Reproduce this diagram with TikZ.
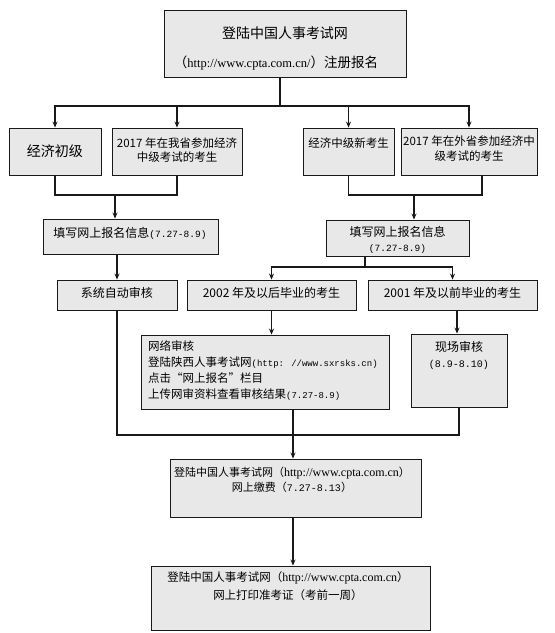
\documentclass[tikz,border=0pt]{standalone}
\usepackage{fontspec}
\setmainfont{Noto Sans CJK SC}
\newfontfamily\cjk{Noto Sans CJK SC}
\newfontfamily\ser{Liberation Serif}
\newfontfamily\mon{Liberation Mono}
\usetikzlibrary{arrows.meta}
\definecolor{boxfill}{RGB}{232,232,232}
\definecolor{ln}{RGB}{25,25,25}
\begin{document}
\begin{tikzpicture}[x=1pt,y=-1pt,
  box/.style={draw=ln, line width=0.9pt, fill=boxfill, inner sep=0pt},
  conn/.style={draw=ln, line width=1.4pt},
  arr/.style={conn, -{Stealth[length=6pt,width=5pt]}},
  txt/.style={inner sep=0pt, text=black, align=center, font=\cjk\fontsize{11.5}{14.5}\selectfont},
]
\useasboundingbox (0,0) rectangle (555,633);
\fill[white] (0,0) rectangle (555,633);

% boxes
\node[box, minimum width=242pt, minimum height=67pt] (T) at (285,43.5) {};
\node[box, minimum width=92pt,  minimum height=47pt] (A) at (55,151.5) {};
\node[box, minimum width=130pt, minimum height=47pt] (B) at (177,151.5) {};
\node[box, minimum width=91pt,  minimum height=47pt] (C) at (348.5,151.5) {};
\node[box, minimum width=136pt, minimum height=47pt] (D) at (469,151.5) {};
\node[box, minimum width=175pt, minimum height=35pt] (E) at (130.5,236.5) {};
\node[box, minimum width=143pt, minimum height=36pt] (F) at (397.5,238) {};
\node[box, minimum width=120pt, minimum height=30pt] (G) at (117,295) {};
\node[box, minimum width=169pt, minimum height=30pt] (H) at (271.5,295) {};
\node[box, minimum width=169pt, minimum height=30pt] (I) at (452.5,295) {};
\node[box, minimum width=248pt, minimum height=74pt] (J) at (265,372) {};
\node[box, minimum width=96pt,  minimum height=73pt] (K) at (459,370.5) {};
\node[box, minimum width=251pt, minimum height=58pt] (L) at (295.5,488) {};
\node[box, minimum width=279pt, minimum height=64pt] (M) at (290.5,598) {};

% connectors
\coordinate (j1) at (280,106);
\draw[conn] (j1 |- T.south) -- (j1);
\draw[arr] (j1) -| (A.north);
\draw[arr] (j1) -| (B.north);
\draw[arr] (j1) -| (C.north);
\draw[arr] (j1) -| (D.north);

\coordinate (m1) at (115,195);
\draw[conn] (A.south) |- (m1) -| (B.south);
\draw[arr] (m1) -- (m1 |- E.north);

\coordinate (m2) at (414,195);
\draw[conn] (C.south) |- (m2) -| ([xshift=13pt]D.south);
\draw[arr] (m2) -- (m2 |- F.north);

\draw[arr] (G.north |- E.south) -- (G.north);

\coordinate (m3) at (365,267);
\draw[conn] (m3 |- F.south) -- (m3);
\draw[arr] (m3) -| (H.north);
\draw[arr] (m3) -| (I.north);

\draw[arr] (H.south) -- (H.south |- J.north);
\draw[arr] ([xshift=-2pt]K.north |- I.south) -- ([xshift=-2pt]K.north);

\coordinate (m4) at (293,435);
\draw[conn] (G.south) |- (m4) -| (K.south);
\draw[conn] (m4 |- J.south) -- (m4);
\draw[arr] (m4) -- (m4 |- L.north);
\draw[arr] (m4 |- L.south) -- (m4 |- M.north);

% texts
\node[txt, font=\cjk\fontsize{14}{17}\selectfont] (t1) at (285,33) {登陆中国人事考试网};
\node[txt, font=\cjk\fontsize{13.5}{17}\selectfont] (t2) at (276,63) {（{\ser\fontsize{12.5}{15}\selectfont http://www.cpta.com.cn/}）注册报名};
\node[txt, font=\cjk\fontsize{14}{17}\selectfont] (ta) at (55,151) {经济初级};
\node[txt] (tb) at (177,150) {2017 年在我省参加经济\\中级考试的考生};
\node[txt] (tc) at (348.5,143) {经济中级新考生};
\node[txt] (td) at (469,148.5) {2017 年在外省参加经济中\\级考试的考生};
\node[txt, font=\cjk\fontsize{12}{15}\selectfont] (te) at (130,233) {填写网上报名信息{\mon\fontsize{9.5}{12}\selectfont (7.27-8.9)}};
\node[txt, font=\cjk\fontsize{12}{15}\selectfont] (tf) at (397.5,239.5) {填写网上报名信息\\{\mon\fontsize{9.5}{12}\selectfont (7.27-8.9)}};
\node[txt, font=\cjk\fontsize{12}{15}\selectfont] (tg) at (117,293) {系统自动审核};
\node[txt, font=\cjk\fontsize{12}{15}\selectfont] (th) at (271.5,293) {2002 年及以后毕业的考生};
\node[txt, font=\cjk\fontsize{12}{15}\selectfont] (ti) at (452.5,293) {2001 年及以前毕业的考生};
\node[txt, anchor=west, align=left, font=\cjk\fontsize{11.5}{16}\selectfont] (tj) at (148,371) {网络审核\\登陆陕西人事考试网{\mon\fontsize{9}{12}\selectfont (http: //www.sxrsks.cn)}\\点击“网上报名”栏目\\上传网审资料查看审核结果{\mon\fontsize{9}{12}\selectfont (7.27-8.9)}};
\node[txt, font=\cjk\fontsize{12}{16}\selectfont] (tk) at (459,355) {现场审核\\{\mon\fontsize{10}{12}\selectfont (8.9-8.10)}};
\node[txt, font=\cjk\fontsize{11}{14.5}\selectfont] (tl) at (292,480) {登陆中国人事考试网（{\ser\fontsize{12}{14}\selectfont http://www.cpta.com.cn}）\\网上缴费（{\mon\fontsize{10}{12}\selectfont 7.27-8.13}）};
\node[txt, font=\cjk\fontsize{11.5}{18}\selectfont] (tm) at (288,586) {登陆中国人事考试网（{\ser\fontsize{12}{14}\selectfont http://www.cpta.com.cn}）\\网上打印准考证（考前一周）};
\end{tikzpicture}
\end{document}
